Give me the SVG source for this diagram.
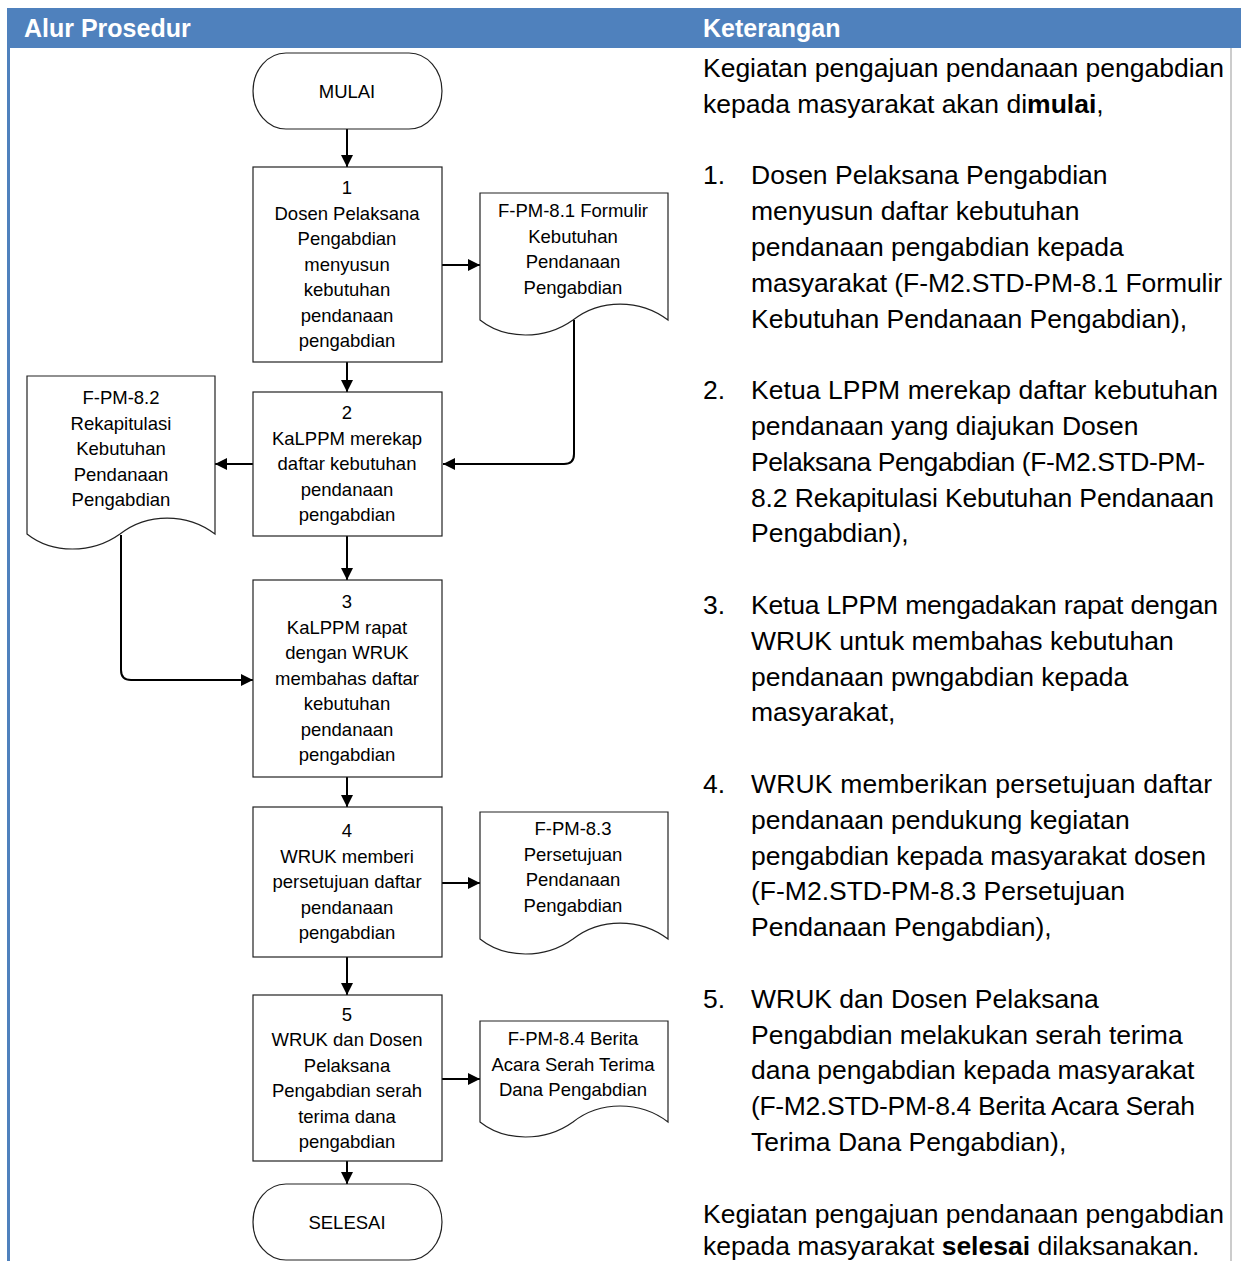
<svg xmlns="http://www.w3.org/2000/svg" width="1241" height="1261" viewBox="0 0 1241 1261">
<style>
.hdr{font-family:"Liberation Sans",Arial,sans-serif;font-size:25px;font-weight:bold;fill:#fff}
.desc{font-family:"Liberation Sans",Arial,sans-serif;font-size:26.5px;fill:#000}
.lbl{font-family:"Liberation Sans",Arial,sans-serif;font-size:18.5px;fill:#000;text-anchor:middle}
.shape{fill:#fff;stroke:#222;stroke-width:1.2}
.conn{fill:none;stroke:#000;stroke-width:2}
</style>
<defs>
<marker id="arr" markerUnits="userSpaceOnUse" markerWidth="13" markerHeight="13" refX="12" refY="6" orient="auto">
<path d="M0,0 L12,6 L0,12 Z" fill="#000"/>
</marker>
</defs>
<rect width="1241" height="1261" fill="#fff"/>
<rect x="7" y="8" width="1234" height="40" fill="#4F81BD"/>
<rect x="7" y="48" width="3" height="1213" fill="#4F81BD"/>
<line x1="1231" y1="48" x2="1231" y2="1261" stroke="#999" stroke-width="1"/>
<text class="hdr" x="24" y="37">Alur Prosedur</text>
<text class="hdr" x="703" y="37">Keterangan</text>

<g id="connectors">
<line class="conn" x1="347" y1="129" x2="347" y2="167" marker-end="url(#arr)"/>
<line class="conn" x1="442" y1="265" x2="480" y2="265" marker-end="url(#arr)"/>
<line class="conn" x1="347" y1="362" x2="347" y2="392" marker-end="url(#arr)"/>
<path class="conn" d="M574,320 V454 Q574,464 564,464 H443" marker-end="url(#arr)"/>
<line class="conn" x1="253" y1="464" x2="215" y2="464" marker-end="url(#arr)"/>
<path class="conn" d="M121,535 V670 Q121,680 131,680 H253" marker-end="url(#arr)"/>
<line class="conn" x1="347" y1="536" x2="347" y2="580" marker-end="url(#arr)"/>
<line class="conn" x1="347" y1="777" x2="347" y2="807" marker-end="url(#arr)"/>
<line class="conn" x1="442" y1="883" x2="480" y2="883" marker-end="url(#arr)"/>
<line class="conn" x1="347" y1="957" x2="347" y2="995" marker-end="url(#arr)"/>
<line class="conn" x1="442" y1="1079" x2="480" y2="1079" marker-end="url(#arr)"/>
<line class="conn" x1="347" y1="1161" x2="347" y2="1184" marker-end="url(#arr)"/>
</g>

<g id="mulai">
<path class="shape" d="M286,53 H409 A33,38 0 0 1 409,129 H286 A33,38 0 0 1 286,53 Z"/>
<text class="lbl" x="347" y="97.5">MULAI</text>
</g>

<g id="step1">
<rect class="shape" x="253" y="167" width="189" height="195"/>
<text class="lbl" x="347"><tspan x="347" y="194">1</tspan><tspan x="347" y="219.5">Dosen Pelaksana</tspan><tspan x="347" y="245">Pengabdian</tspan><tspan x="347" y="270.5">menyusun</tspan><tspan x="347" y="296">kebutuhan</tspan><tspan x="347" y="321.5">pendanaan</tspan><tspan x="347" y="347">pengabdian</tspan></text>
</g>

<g id="doc1">
<path class="shape" d="M480,193 H668 V320 C640,298.7 600,298.7 573,320 C545,340 505,340 480,320 Z"/>
<text class="lbl"><tspan x="573" y="217">F-PM-8.1 Formulir</tspan><tspan x="573" y="242.5">Kebutuhan</tspan><tspan x="573" y="268">Pendanaan</tspan><tspan x="573" y="293.5">Pengabdian</tspan></text>
</g>

<g id="step2">
<rect class="shape" x="253" y="392" width="189" height="144"/>
<text class="lbl"><tspan x="347" y="419">2</tspan><tspan x="347" y="444.5">KaLPPM merekap</tspan><tspan x="347" y="470">daftar kebutuhan</tspan><tspan x="347" y="495.5">pendanaan</tspan><tspan x="347" y="521">pengabdian</tspan></text>
</g>

<g id="doc2">
<path class="shape" d="M27,376 H215 V534 C187,512.7 147,512.7 120,534 C92,554 52,554 27,534 Z"/>
<text class="lbl"><tspan x="121" y="404">F-PM-8.2</tspan><tspan x="121" y="429.5">Rekapitulasi</tspan><tspan x="121" y="455">Kebutuhan</tspan><tspan x="121" y="480.5">Pendanaan</tspan><tspan x="121" y="506">Pengabdian</tspan></text>
</g>

<g id="step3">
<rect class="shape" x="253" y="580" width="189" height="197"/>
<text class="lbl"><tspan x="347" y="608">3</tspan><tspan x="347" y="633.5">KaLPPM rapat</tspan><tspan x="347" y="659">dengan WRUK</tspan><tspan x="347" y="684.5">membahas daftar</tspan><tspan x="347" y="710">kebutuhan</tspan><tspan x="347" y="735.5">pendanaan</tspan><tspan x="347" y="761">pengabdian</tspan></text>
</g>

<g id="step4">
<rect class="shape" x="253" y="807" width="189" height="150"/>
<text class="lbl"><tspan x="347" y="837">4</tspan><tspan x="347" y="862.5">WRUK memberi</tspan><tspan x="347" y="888">persetujuan daftar</tspan><tspan x="347" y="913.5">pendanaan</tspan><tspan x="347" y="939">pengabdian</tspan></text>
</g>

<g id="doc3">
<path class="shape" d="M480,812 H668 V939 C640,917.7 600,917.7 573,939 C545,959 505,959 480,939 Z"/>
<text class="lbl"><tspan x="573" y="835">F-PM-8.3</tspan><tspan x="573" y="860.5">Persetujuan</tspan><tspan x="573" y="886">Pendanaan</tspan><tspan x="573" y="911.5">Pengabdian</tspan></text>
</g>

<g id="step5">
<rect class="shape" x="253" y="995" width="189" height="166"/>
<text class="lbl"><tspan x="347" y="1020.5">5</tspan><tspan x="347" y="1046">WRUK dan Dosen</tspan><tspan x="347" y="1071.5">Pelaksana</tspan><tspan x="347" y="1097">Pengabdian serah</tspan><tspan x="347" y="1122.5">terima dana</tspan><tspan x="347" y="1148">pengabdian</tspan></text>
</g>

<g id="doc4">
<path class="shape" d="M480,1021 H668 V1122 C640,1100.7 600,1100.7 573,1122 C545,1142 505,1142 480,1122 Z"/>
<text class="lbl"><tspan x="573" y="1045">F-PM-8.4 Berita</tspan><tspan x="573" y="1070.5">Acara Serah Terima</tspan><tspan x="573" y="1096">Dana Pengabdian</tspan></text>
</g>

<g id="selesai">
<path class="shape" d="M286,1184 H409 A33,38 0 0 1 409,1260 H286 A33,38 0 0 1 286,1184 Z"/>
<text class="lbl" x="347" y="1228.5">SELESAI</text>
</g>

<g id="keterangan">
<text class="desc" x="703" y="77" textLength="521">Kegiatan pengajuan pendanaan pengabdian</text>
<text class="desc" x="703" y="112.8">kepada masyarakat akan di<tspan font-weight="bold">mulai</tspan>,</text>

<text class="desc" x="703" y="184.4">1.</text>
<text class="desc" x="751" y="184.4">Dosen Pelaksana Pengabdian</text>
<text class="desc" x="751" y="220.2">menyusun daftar kebutuhan</text>
<text class="desc" x="751" y="256">pendanaan pengabdian kepada</text>
<text class="desc" x="751" y="291.8" textLength="471">masyarakat (F-M2.STD-PM-8.1 Formulir</text>
<text class="desc" x="751" y="327.6">Kebutuhan Pendanaan Pengabdian),</text>

<text class="desc" x="703" y="399.2">2.</text>
<text class="desc" x="751" y="399.2" textLength="467">Ketua LPPM merekap daftar kebutuhan</text>
<text class="desc" x="751" y="435">pendanaan yang diajukan Dosen</text>
<text class="desc" x="751" y="470.8" textLength="454">Pelaksana Pengabdian (F-M2.STD-PM-</text>
<text class="desc" x="751" y="506.6" textLength="463">8.2 Rekapitulasi Kebutuhan Pendanaan</text>
<text class="desc" x="751" y="542.4">Pengabdian),</text>

<text class="desc" x="703" y="614">3.</text>
<text class="desc" x="751" y="614" textLength="467">Ketua LPPM mengadakan rapat dengan</text>
<text class="desc" x="751" y="649.8">WRUK untuk membahas kebutuhan</text>
<text class="desc" x="751" y="685.6">pendanaan pwngabdian kepada</text>
<text class="desc" x="751" y="721.4">masyarakat,</text>

<text class="desc" x="703" y="793">4.</text>
<text class="desc" x="751" y="793" textLength="461">WRUK memberikan persetujuan daftar</text>
<text class="desc" x="751" y="828.8">pendanaan pendukung kegiatan</text>
<text class="desc" x="751" y="864.6" textLength="455">pengabdian kepada masyarakat dosen</text>
<text class="desc" x="751" y="900.4">(F-M2.STD-PM-8.3 Persetujuan</text>
<text class="desc" x="751" y="936.2">Pendanaan Pengabdian),</text>

<text class="desc" x="703" y="1007.8">5.</text>
<text class="desc" x="751" y="1007.8">WRUK dan Dosen Pelaksana</text>
<text class="desc" x="751" y="1043.6">Pengabdian melakukan serah terima</text>
<text class="desc" x="751" y="1079.4">dana pengabdian kepada masyarakat</text>
<text class="desc" x="751" y="1115.2" textLength="444">(F-M2.STD-PM-8.4 Berita Acara Serah</text>
<text class="desc" x="751" y="1151">Terima Dana Pengabdian),</text>

<text class="desc" x="703" y="1222.6" textLength="521">Kegiatan pengajuan pendanaan pengabdian</text>
<text class="desc" x="703" y="1255">kepada masyarakat <tspan font-weight="bold">selesai</tspan> dilaksanakan.</text>
</g>
</svg>
